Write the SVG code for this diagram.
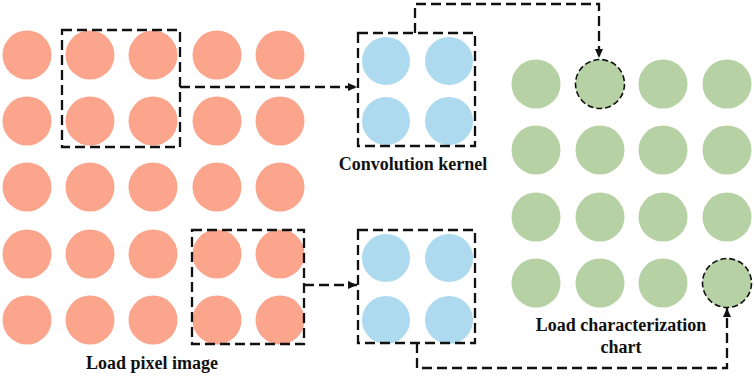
<svg xmlns="http://www.w3.org/2000/svg" width="754" height="377" viewBox="0 0 754 377">
<style>
.r{fill:#FBA58C}
.b{fill:#ADDAEE}
.g{fill:#B6D1A3}
.box{fill:none;stroke:#111;stroke-width:2.3;stroke-dasharray:10 5}
.con{fill:none;stroke:#111;stroke-width:2.3;stroke-dasharray:10 5}
.dc{stroke:#111;stroke-width:1.6;stroke-dasharray:6 3}
.lbl{font-family:"Liberation Serif","Times New Roman",serif;font-weight:bold;font-size:18px;fill:#111;text-anchor:middle}
</style>
<defs>
<marker id="ah" markerWidth="10" markerHeight="10" refX="9" refY="5" orient="auto" markerUnits="userSpaceOnUse">
<path d="M0,1 L9,5 L0,9 Z" fill="#111"/>
</marker>
</defs>
<rect width="754" height="377" fill="#fff"/>
<g id="pixel-image">
<g id="pixel-row1"><circle class="r" cx="27" cy="55" r="24.5"/><circle class="r" cx="90" cy="55" r="24.5"/><circle class="r" cx="153" cy="55" r="24.5"/><circle class="r" cx="217" cy="55" r="24.5"/><circle class="r" cx="280" cy="55" r="24.5"/></g>
<g id="pixel-row2"><circle class="r" cx="27" cy="121" r="24.5"/><circle class="r" cx="90" cy="121" r="24.5"/><circle class="r" cx="153" cy="121" r="24.5"/><circle class="r" cx="217" cy="121" r="24.5"/><circle class="r" cx="280" cy="121" r="24.5"/></g>
<g id="pixel-row3"><circle class="r" cx="27" cy="187" r="24.5"/><circle class="r" cx="90" cy="187" r="24.5"/><circle class="r" cx="153" cy="187" r="24.5"/><circle class="r" cx="217" cy="187" r="24.5"/><circle class="r" cx="280" cy="187" r="24.5"/></g>
<g id="pixel-row4"><circle class="r" cx="27" cy="254" r="24.5"/><circle class="r" cx="90" cy="254" r="24.5"/><circle class="r" cx="153" cy="254" r="24.5"/><circle class="r" cx="217" cy="254" r="24.5"/><circle class="r" cx="280" cy="254" r="24.5"/></g>
<g id="pixel-row5"><circle class="r" cx="27" cy="320" r="24.5"/><circle class="r" cx="90" cy="320" r="24.5"/><circle class="r" cx="153" cy="320" r="24.5"/><circle class="r" cx="217" cy="320" r="24.5"/><circle class="r" cx="280" cy="320" r="24.5"/></g>
<rect id="window-top" class="box" x="62" y="30" width="118" height="117"/>
<rect id="window-bottom" class="box" x="192" y="230" width="112" height="114"/>
<text class="lbl" x="152" y="369">Load pixel image</text>
</g>
<g id="kernel-top">
<circle class="b" cx="386" cy="61" r="24"/><circle class="b" cx="449" cy="61" r="24"/>
<circle class="b" cx="386" cy="121" r="24"/><circle class="b" cx="449" cy="121" r="24"/>
<rect class="box" x="358" y="33" width="117" height="113"/>
<text class="lbl" x="413" y="170">Convolution kernel</text>
</g>
<g id="kernel-bottom">
<circle class="b" cx="386" cy="258" r="24"/><circle class="b" cx="449" cy="258" r="24"/>
<circle class="b" cx="386" cy="320" r="24"/><circle class="b" cx="449" cy="320" r="24"/>
<rect class="box" x="358" y="230" width="117" height="113"/>
</g>
<g id="characterization-chart">
<circle class="g" cx="536" cy="84" r="24.5"/><circle class="g dc" cx="600" cy="84" r="24.5"/><circle class="g" cx="663" cy="84" r="24.5"/><circle class="g" cx="727" cy="84" r="24.5"/>
<circle class="g" cx="536" cy="150" r="24.5"/><circle class="g" cx="600" cy="150" r="24.5"/><circle class="g" cx="663" cy="150" r="24.5"/><circle class="g" cx="727" cy="150" r="24.5"/>
<circle class="g" cx="536" cy="217" r="24.5"/><circle class="g" cx="600" cy="217" r="24.5"/><circle class="g" cx="663" cy="217" r="24.5"/><circle class="g" cx="727" cy="217" r="24.5"/>
<circle class="g" cx="536" cy="283" r="24.5"/><circle class="g" cx="600" cy="283" r="24.5"/><circle class="g" cx="663" cy="283" r="24.5"/><circle class="g dc" cx="727" cy="283" r="24.5"/>
<text class="lbl" x="621" y="331">Load characterization</text>
<text class="lbl" x="621" y="353">chart</text>
</g>
<g id="connectors">
<path class="con" d="M180,87 H357" marker-end="url(#ah)"/>
<path class="con" d="M304,285 H357" marker-end="url(#ah)"/>
<path class="con" d="M415,33 V4 H599 V58" marker-end="url(#ah)"/>
<path class="con" d="M417,343 V368 H727 V308" marker-end="url(#ah)"/>
</g>
</svg>
